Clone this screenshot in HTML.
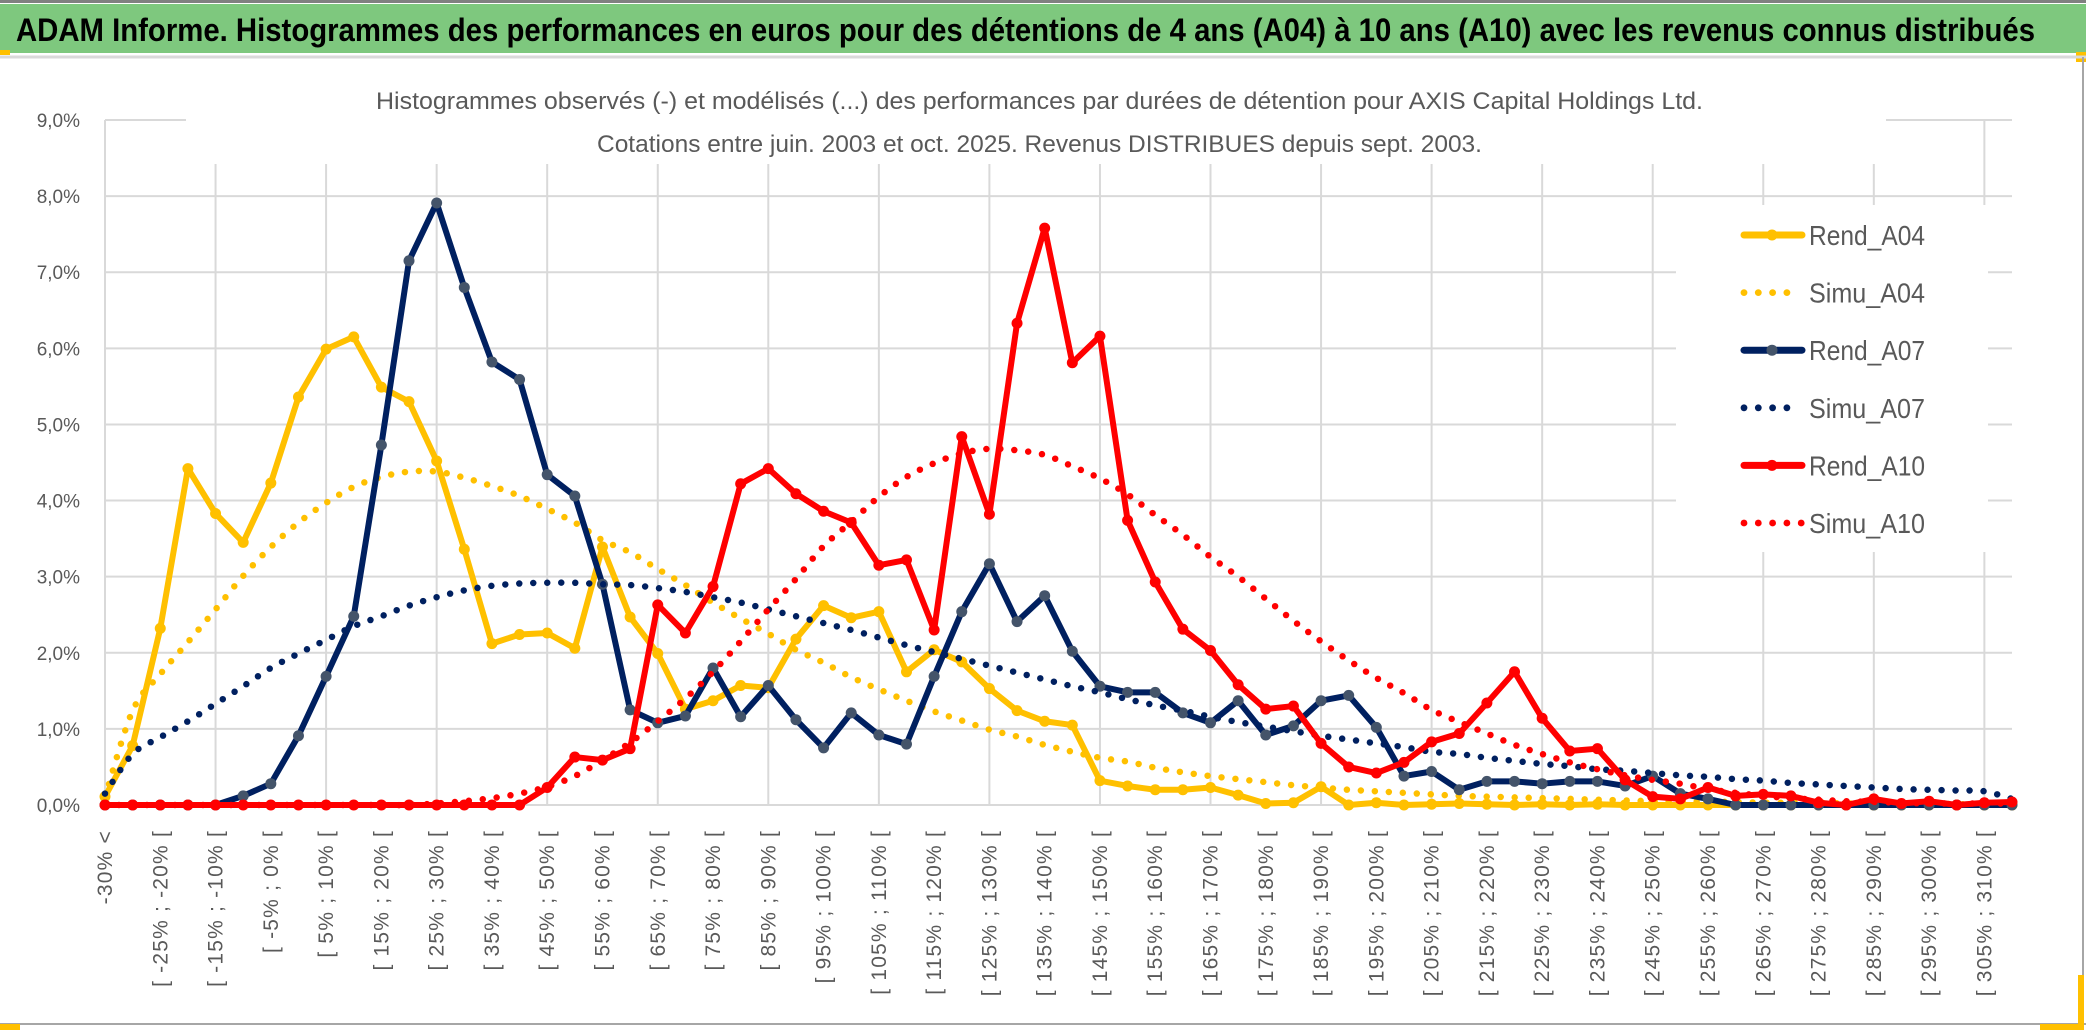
<!DOCTYPE html>
<html><head><meta charset="utf-8"><style>
html,body{margin:0;padding:0;background:#fff;}
svg{display:block;font-family:"Liberation Sans",sans-serif;}
</style></head><body>
<svg id="chart" width="2086" height="1033" viewBox="0 0 2086 1033" xmlns="http://www.w3.org/2000/svg">
<rect x="0" y="0" width="2086" height="1033" fill="#fff"/>
<line x1="0" y1="1.5" x2="2086" y2="1.5" stroke="#808080" stroke-width="3"/>
<rect x="0" y="4" width="2086" height="49" fill="#7EC87E"/>
<text x="16" y="41" font-size="32" font-weight="bold" fill="#000" textLength="2019" lengthAdjust="spacingAndGlyphs">ADAM Informe. Histogrammes des performances en euros pour des détentions de 4 ans (A04) à 10 ans (A10) avec les revenus connus distribués</text>
<rect x="0" y="50" width="10" height="5" fill="#FFC000"/>
<rect x="2076" y="52" width="10" height="10" fill="#FFC000"/>
<line x1="0" y1="57" x2="2086" y2="57" stroke="#D9D9D9" stroke-width="3"/>
<line x1="2083" y1="57" x2="2083" y2="1030" stroke="#A6A6A6" stroke-width="2"/>
<line x1="0" y1="1024" x2="2086" y2="1024" stroke="#A6A6A6" stroke-width="2"/>
<rect x="0" y="1024" width="20" height="6" fill="#FFC000"/>
<rect x="2078" y="975" width="6" height="55" fill="#FFC000"/>
<rect x="2040" y="1024" width="44" height="6" fill="#FFC000"/>
<g id="grid"></g>
<g id="ylabels"></g>
<g id="xlabels"></g>
<rect x="186" y="70" width="1700" height="94" fill="#fff"/>
<text x="376" y="109" font-size="24" fill="#595959" textLength="1327" lengthAdjust="spacingAndGlyphs">Histogrammes observés (-) et modélisés (...) des performances par durées de détention pour AXIS Capital Holdings Ltd.</text>
<text x="597" y="152" font-size="24" fill="#595959" textLength="885" lengthAdjust="spacingAndGlyphs">Cotations entre juin. 2003 et oct. 2025. Revenus DISTRIBUES depuis sept. 2003.</text>
<g id="series"></g>
<rect x="1676" y="205" width="312" height="347" fill="#fff"/>
<g id="legend"></g>
</svg>
<script>
const categories = ["-30% <","[ -30% ; -25% [","[ -25% ; -20% [","[ -20% ; -15% [","[ -15% ; -10% [","[ -10% ; -5% [","[ -5% ; 0% [","[ 0% ; 5% [","[ 5% ; 10% [","[ 10% ; 15% [",
"[ 15% ; 20% [","[ 20% ; 25% [","[ 25% ; 30% [","[ 30% ; 35% [","[ 35% ; 40% [","[ 40% ; 45% [","[ 45% ; 50% [","[ 50% ; 55% [","[ 55% ; 60% [","[ 60% ; 65% [",
"[ 65% ; 70% [","[ 70% ; 75% [","[ 75% ; 80% [","[ 80% ; 85% [","[ 85% ; 90% [","[ 90% ; 95% [","[ 95% ; 100% [","[ 100% ; 105% [","[ 105% ; 110% [","[ 110% ; 115% [",
"[ 115% ; 120% [","[ 120% ; 125% [","[ 125% ; 130% [","[ 130% ; 135% [","[ 135% ; 140% [","[ 140% ; 145% [","[ 145% ; 150% [","[ 150% ; 155% [","[ 155% ; 160% [","[ 160% ; 165% [",
"[ 165% ; 170% [","[ 170% ; 175% [","[ 175% ; 180% [","[ 180% ; 185% [","[ 185% ; 190% [","[ 190% ; 195% [","[ 195% ; 200% [","[ 200% ; 205% [","[ 205% ; 210% [","[ 210% ; 215% [",
"[ 215% ; 220% [","[ 220% ; 225% [","[ 225% ; 230% [","[ 230% ; 235% [","[ 235% ; 240% [","[ 240% ; 245% [","[ 245% ; 250% [","[ 250% ; 255% [","[ 255% ; 260% [","[ 260% ; 265% [",
"[ 265% ; 270% [","[ 270% ; 275% [","[ 275% ; 280% [","[ 280% ; 285% [","[ 285% ; 290% [","[ 290% ; 295% [","[ 295% ; 300% [","[ 300% ; 305% [","[ 305% ; 310% [","[ 310% ; 315% ["];
const rendA04 = [0.11,0.78,2.32,4.42,3.83,3.45,4.23,5.36,5.99,6.15,
5.49,5.30,4.52,3.36,2.12,2.24,2.26,2.06,3.39,2.47,
1.99,1.26,1.37,1.57,1.54,2.18,2.62,2.46,2.54,1.75,
2.04,1.88,1.53,1.24,1.10,1.05,0.32,0.25,0.20,0.20,
0.23,0.13,0.02,0.03,0.24,0.00,0.03,0.00,0.01,0.02,
0.01,0.00,0.01,0.00,0.01,0.00,0.00,0.00,0.00,0.00,
0.00,0.00,0.00,0.00,0.00,0.00,0.00,0.00,0.00,0.00];
const simuA04 = [0.10,1.24,1.72,2.14,2.57,3.01,3.39,3.71,3.97,4.18,
4.31,4.38,4.38,4.30,4.19,4.06,3.89,3.71,3.48,3.32,
3.10,2.89,2.66,2.45,2.25,2.04,1.87,1.68,1.52,1.37,
1.23,1.11,0.99,0.90,0.79,0.70,0.62,0.57,0.49,0.43,
0.38,0.34,0.30,0.26,0.23,0.20,0.18,0.16,0.14,0.12,
0.11,0.10,0.09,0.08,0.07,0.06,0.05,0.05,0.04,0.04,
0.03,0.03,0.03,0.02,0.02,0.02,0.02,0.01,0.01,0.01];
const rendA07 = [0,0,0,0,0,0.12,0.28,0.91,1.69,2.48,
4.73,7.15,7.91,6.80,5.82,5.59,4.34,4.06,2.90,1.25,
1.08,1.17,1.80,1.16,1.57,1.12,0.75,1.21,0.92,0.80,
1.69,2.54,3.17,2.41,2.75,2.02,1.56,1.48,1.48,1.21,
1.08,1.37,0.92,1.04,1.37,1.44,1.02,0.38,0.44,0.20,
0.31,0.31,0.28,0.31,0.31,0.25,0.38,0.15,0.08,0.00,
0,0,0,0,0,0,0,0,0,0];
const simuA07 = [0.15,0.67,0.89,1.10,1.33,1.56,1.80,1.99,2.17,2.35,
2.48,2.62,2.73,2.82,2.88,2.91,2.92,2.92,2.90,2.89,
2.85,2.80,2.73,2.66,2.57,2.48,2.39,2.30,2.20,2.10,
2.01,1.92,1.83,1.74,1.65,1.56,1.48,1.39,1.31,1.24,
1.16,1.09,1.03,0.97,0.91,0.86,0.81,0.76,0.70,0.67,
0.62,0.58,0.54,0.51,0.47,0.45,0.42,0.39,0.37,0.34,
0.32,0.29,0.27,0.25,0.23,0.21,0.20,0.19,0.18,0.08];
const rendA10 = [0,0,0,0,0,0,0,0,0,0,
0,0,0,0,0,0,0.23,0.63,0.59,0.74,
2.63,2.26,2.87,4.22,4.42,4.09,3.86,3.71,3.15,3.22,
2.30,4.84,3.82,6.33,7.58,5.81,6.16,3.74,2.93,2.31,
2.03,1.58,1.26,1.30,0.81,0.50,0.42,0.56,0.83,0.94,
1.34,1.75,1.14,0.71,0.74,0.33,0.11,0.08,0.23,0.12,
0.14,0.12,0.03,0.00,0.08,0.02,0.05,0.00,0.03,0.04];
const simuA10 = [0,0,0,0,0,0,0,0,0,0,
0,0,0.02,0.05,0.09,0.15,0.24,0.38,0.59,0.82,
1.10,1.40,1.75,2.15,2.57,2.97,3.40,3.72,4.05,4.31,
4.49,4.62,4.68,4.66,4.60,4.45,4.29,4.08,3.81,3.55,
3.26,3.00,2.71,2.42,2.15,1.90,1.67,1.47,1.25,1.09,
0.94,0.79,0.67,0.56,0.47,0.39,0.33,0.28,0.21,0.16,
0.12,0.09,0.07,0.05,0.04,0.03,0.02,0.02,0.02,0.02];
const yTicks = [0,1,2,3,4,5,6,7,8,9];
const yTickLabels = ["0,0%","1,0%","2,0%","3,0%","4,0%","5,0%","6,0%","7,0%","8,0%","9,0%"];
const seriesNames = ["Rend_A04","Simu_A04","Rend_A07","Simu_A07","Rend_A10","Simu_A10"];

const NS = "http://www.w3.org/2000/svg";
const X0 = 105, X1 = 2012, Y0 = 805, Y9 = 120;
function xPos(i){ return X0 + i * (X1 - X0) / (categories.length - 1); }
function yPos(v){ return Y0 - v * (Y0 - Y9) / 9; }
function mk(tag, parent){ const e = document.createElementNS(NS, tag); parent.appendChild(e); return e; }

const grid = document.getElementById('grid');
yTicks.forEach((t, k) => {
  const l = mk('line', grid);
  
  
  l.setAttribute('x1', X0); l.setAttribute('x2', X1);
  l.setAttribute('y1', yPos(t)); l.setAttribute('y2', yPos(t));
  l.setAttribute('stroke', '#D9D9D9'); l.setAttribute('stroke-width', '2');
  const tx = mk('text', document.getElementById('ylabels'));
  
  
  tx.setAttribute('x', 80); tx.setAttribute('y', yPos(t) + 7);
  tx.setAttribute('text-anchor', 'end'); tx.setAttribute('font-size', '19');
  tx.setAttribute('fill', '#595959');
  tx.textContent = yTickLabels[k];
});
for (let i = 0; i < categories.length; i += 4) {
  const l = mk('line', grid);
  
  
  l.setAttribute('x1', xPos(i)); l.setAttribute('x2', xPos(i));
  l.setAttribute('y1', Y9); l.setAttribute('y2', Y0);
  l.setAttribute('stroke', '#D9D9D9'); l.setAttribute('stroke-width', '2');
}
const xl = document.getElementById('xlabels');
for (let i = 0; i < categories.length; i += 2) {
  const t = mk('text', xl);
  
  
  const x = xPos(i) + 7, y = 830;
  t.setAttribute('x', x); t.setAttribute('y', y);
  t.setAttribute('transform', 'rotate(-90 ' + x + ' ' + y + ')');
  t.setAttribute('text-anchor', 'end'); t.setAttribute('font-size', '21');
  t.setAttribute('letter-spacing', '1.2'); t.setAttribute('fill', '#595959');
  t.textContent = categories[i];
}

const sg = document.getElementById('series');
function solid(data, color, marker, name){
  const g = mk('g', sg);
  
  
  const p = mk('polyline', g);
  
  
  p.setAttribute('points', data.map((v, i) => xPos(i) + ',' + yPos(v)).join(' '));
  p.setAttribute('fill', 'none'); p.setAttribute('stroke', color);
  p.setAttribute('stroke-width', '6'); p.setAttribute('stroke-linejoin', 'round');
  data.forEach((v, i) => {
    const c = mk('circle', g);
    
    
    c.setAttribute('cx', xPos(i)); c.setAttribute('cy', yPos(v)); c.setAttribute('r', '5.5');
    c.setAttribute('fill', marker);
  });
}
function dotted(data, color, name){
  const pts = data.map((v, i) => [xPos(i), yPos(v)]);
  let d = 'M' + pts[0][0] + ',' + pts[0][1];
  for (let i = 0; i < pts.length - 1; i++) {
    const p0 = pts[Math.max(0, i - 1)], p1 = pts[i], p2 = pts[i + 1], p3 = pts[Math.min(pts.length - 1, i + 2)];
    const c1x = p1[0] + (p2[0] - p0[0]) / 6, c1y = p1[1] + (p2[1] - p0[1]) / 6;
    const c2x = p2[0] - (p3[0] - p1[0]) / 6, c2y = p2[1] - (p3[1] - p1[1]) / 6;
    d += ' C' + c1x + ',' + c1y + ' ' + c2x + ',' + c2y + ' ' + p2[0] + ',' + p2[1];
  }
  const p = mk('path', sg);
  
  
  p.setAttribute('d', d); p.setAttribute('fill', 'none'); p.setAttribute('stroke', color);
  p.setAttribute('stroke-width', '6.5'); p.setAttribute('stroke-linecap', 'round');
  p.setAttribute('stroke-dasharray', '0 14');
}
solid(rendA04, '#FFC000', '#FFC000', 'rend-a04');
dotted(simuA04, '#FFC000', 'simu-a04');
solid(rendA07, '#002060', '#44546A', 'rend-a07');
dotted(simuA07, '#002060', 'simu-a07');
solid(rendA10, '#FF0000', '#FF0000', 'rend-a10');
dotted(simuA10, '#FF0000', 'simu-a10');

const lg = document.getElementById('legend');
const lColors = ['#FFC000','#FFC000','#002060','#002060','#FF0000','#FF0000'];
const lMarkers = ['#FFC000',null,'#44546A',null,'#FF0000',null];
seriesNames.forEach((n, k) => {
  const y = 235 + k * 57.6;
  const g = mk('g', lg);
  
  
  if (k % 2 === 0) {
    const l = mk('line', g);
    l.setAttribute('x1', 1744); l.setAttribute('x2', 1802); l.setAttribute('y1', y); l.setAttribute('y2', y);
    l.setAttribute('stroke', lColors[k]); l.setAttribute('stroke-width', '7'); l.setAttribute('stroke-linecap', 'round');
    const c = mk('circle', g);
    c.setAttribute('cx', 1772); c.setAttribute('cy', y); c.setAttribute('r', '5.5'); c.setAttribute('fill', lMarkers[k]);
  } else {
    const nd = k === 5 ? 5 : 4;
    for (let j = 0; j < nd; j++) {
      const c = mk('circle', g);
      c.setAttribute('cx', 1744 + j * 14.3); c.setAttribute('cy', y); c.setAttribute('r', '3.4'); c.setAttribute('fill', lColors[k]);
    }
  }
  const t = mk('text', g);
  t.setAttribute('x', 1809); t.setAttribute('y', y + 10);
  t.setAttribute('font-size', '28'); t.setAttribute('fill', '#595959');
  t.setAttribute('textLength', '116'); t.setAttribute('lengthAdjust', 'spacingAndGlyphs');
  t.textContent = n;
});
</script>
</body></html>
